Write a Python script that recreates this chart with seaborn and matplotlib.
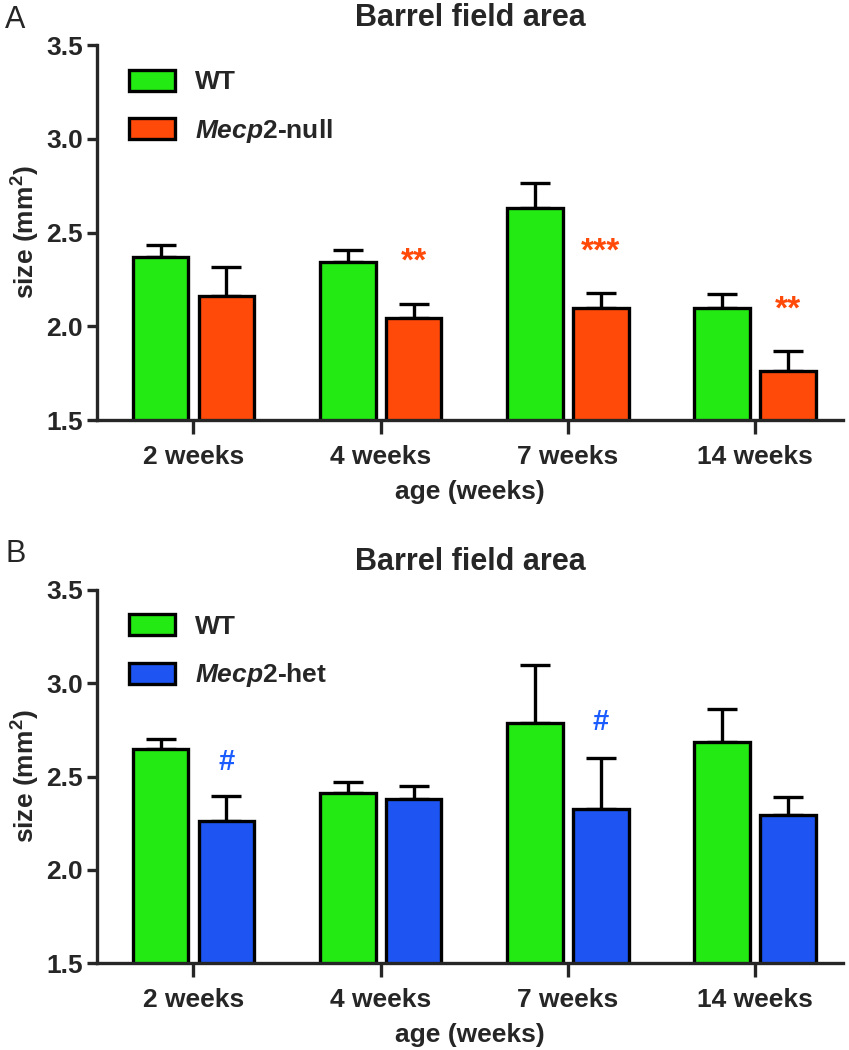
import numpy as np
import pandas as pd
import matplotlib.pyplot as plt
import seaborn as sns

# values (mean and upper SEM)
ages = ['2 weeks', '4 weeks', '7 weeks', '14 weeks']

wt_a = [2.37, 2.345, 2.63, 2.095]
wt_a_err = [0.063, 0.064, 0.132, 0.075]
null_a = [2.16, 2.045, 2.095, 1.76]
null_a_err = [0.158, 0.075, 0.084, 0.11]
marks_a = ['', '**', '***', '**']
marks_a_y = [0, 2.384, 2.437, 2.128]

wt_b = [2.646, 2.41, 2.786, 2.684]
wt_b_err = [0.055, 0.063, 0.312, 0.178]
het_b = [2.262, 2.378, 2.325, 2.294]
het_b_err = [0.134, 0.072, 0.273, 0.095]
marks_b = ['#', '', '#', '']
marks_b_y = [2.58, 0, 2.79, 0]

green = '#22EA12'
red = '#FF4A0A'
blue = '#1E55F2'

sns.set_style('ticks')
plt.rcParams['font.family'] = ['Liberation Sans', 'DejaVu Sans']
plt.rcParams['font.weight'] = 'bold'
plt.rcParams['axes.labelweight'] = 'bold'
plt.rcParams['axes.titleweight'] = 'bold'
plt.rcParams['mathtext.fontset'] = 'custom'
plt.rcParams['mathtext.rm'] = 'Liberation Sans:bold'
plt.rcParams['mathtext.bf'] = 'Liberation Sans:bold'
plt.rcParams['mathtext.it'] = 'Liberation Sans:italic:bold'

fig = plt.figure(figsize=(8.49, 10.5), dpi=100)
ax_a = fig.add_axes([0.1143, 0.600, 0.8787, 0.357])
ax_b = fig.add_axes([0.1143, 0.0826, 0.8787, 0.3556])


def panel(ax, wt, wt_err, mut, mut_err, mut_name, mut_color, marks, marks_y, mark_color, mark_size, shift):
    df = pd.DataFrame({
        'age': ages * 2,
        'size': wt + mut,
        'genotype': ['WT'] * len(ages) + [mut_name] * len(ages),
    })
    sns.barplot(data=df, x='age', y='size', hue='genotype', order=ages,
                palette=[green, mut_color], width=0.704, gap=0.156,
                edgecolor='black', linewidth=2.4, errorbar=None, saturation=1,
                ax=ax, zorder=2)

    # one-sided error bars on top of each bar
    for cont, err in zip(ax.containers, [wt_err, mut_err]):
        xs = [p.get_x() + p.get_width() / 2 for p in cont.patches]
        ys = [p.get_height() for p in cont.patches]
        ax.errorbar(xs, ys, yerr=[np.zeros(len(err)), err], fmt='none',
                    ecolor='black', elinewidth=2.4, capsize=11, capthick=2.4, zorder=1)

    mut_bars = ax.containers[1].patches
    for p, m, y in zip(mut_bars, marks, marks_y):
        if m:
            ax.text(p.get_x() + p.get_width() / 2, y - shift, m, ha='center', va='center',
                    color=mark_color, fontsize=mark_size, fontweight='bold')

    ax.set_ylim(1.5, 3.5)
    ax.set_yticks([1.5, 2.0, 2.5, 3.0, 3.5])
    ax.set_yticklabels(['1.5', '2.0', '2.5', '3.0', '3.5'])
    ax.set_xlim(-0.515, 3.47)
    ax.set_title('Barrel field area', fontsize=22, fontweight='bold', pad=14)
    ax.set_xlabel('age (weeks)', fontsize=19, labelpad=8)
    ax.set_ylabel('size (mm$^{2}$)', fontsize=19, labelpad=3)
    ax.tick_params(axis='both', labelsize=19, width=2.4, direction='out')
    ax.tick_params(axis='y', length=7, pad=3)
    ax.tick_params(axis='x', length=10, pad=8)
    for s in ['left', 'bottom']:
        ax.spines[s].set_linewidth(2.4)
    sns.despine(ax=ax)

    handles, labels = ax.get_legend_handles_labels()
    labels = ['WT', r'$\mathit{Mecp2}$' + mut_name.split('Mecp2')[1]]
    for h in handles:
        h.set_edgecolor('black')
        h.set_linewidth(2.4)
    ax.legend(handles, labels, loc='upper left', bbox_to_anchor=(0.043, 0.935),
              frameon=False, fontsize=19, handlelength=1.75, handleheight=0.85,
              labelspacing=0.85, handletextpad=0.75, borderpad=0, borderaxespad=0)


panel(ax_a, wt_a, wt_a_err, null_a, null_a_err, 'Mecp2-null', red,
      marks_a, marks_a_y, red, 24, 0.04)
panel(ax_b, wt_b, wt_b_err, het_b, het_b_err, 'Mecp2-het', blue,
      marks_b, marks_b_y, '#1A5CFF', 21, 0.0)

fig.text(0.006, 0.995, 'A', fontsize=22, fontweight='normal', va='top', ha='left')
fig.text(0.006, 0.487, 'B', fontsize=22, fontweight='normal', va='top', ha='left')

fig.savefig('out.png', dpi=100)
